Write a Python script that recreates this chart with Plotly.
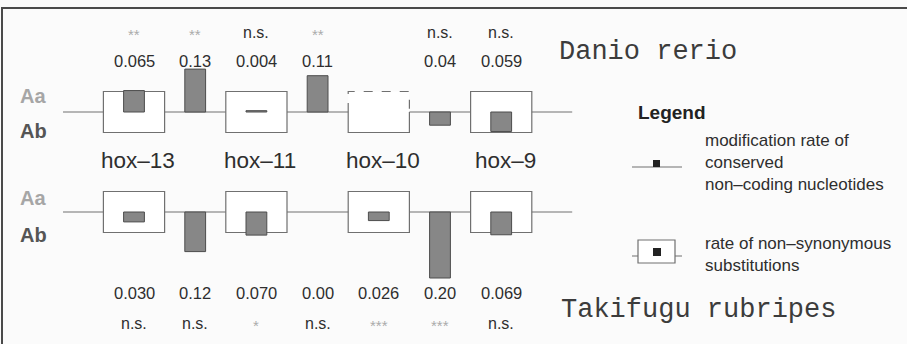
import plotly.graph_objects as go

W, H = 907, 344

# ---------------- data ----------------
slots = ["hox-13", "13/11", "hox-11", "11/10", "hox-10", "10/9", "hox-9"]
gene_slots = [0, 2, 4, 6]
gene_names = ["hox–13", "hox–11", "hox–10", "hox–9"]

danio_rate = [0.065, 0.13, 0.004, 0.11, None, 0.04, 0.059]
danio_dir = [1, 1, 1, 1, 0, -1, -1]          # +1: Aa faster, -1: Ab faster
danio_label = ["0.065", "0.13", "0.004", "0.11", "", "0.04", "0.059"]
danio_sig = ["**", "**", "n.s.", "**", "", "n.s.", "n.s."]

fugu_rate = [0.030, 0.12, 0.070, 0.00, 0.026, 0.20, 0.069]
fugu_dir = [-1, -1, -1, -1, -1, -1, -1]
fugu_label = ["0.030", "0.12", "0.070", "0.00", "0.026", "0.20", "0.069"]
fugu_sig = ["n.s.", "n.s.", "*", "n.s.", "***", "***", "n.s."]

# ---------------- geometry helpers ----------------
X0PX, SLOT_PX = 134.0, 61.2      # pixel centre of slot 0, slot spacing
SCALE = 330.0                    # pixels per unit of rate
TOP_BASE, BOT_BASE = 112.0, 212.0


def px(p):
    return p / W


def py(p):
    return 1 - p / H


xrange_ = [-X0PX / SLOT_PX, (W - X0PX) / SLOT_PX]
y1range = [-(H - TOP_BASE) / SCALE, TOP_BASE / SCALE]
y2range = [-(H - BOT_BASE) / SCALE, BOT_BASE / SCALE]

BAR_FILL = "#878787"
BAR_LINE = "#4d4d4d"
BOX_LINE = "#707070"
TXT = "#2e2e2e"
LIGHT = "#ababab"
SANS = "Liberation Sans, Arial, sans-serif"
MONO = "Liberation Mono, Courier New, monospace"

fig = go.Figure()

# bars
dx, dy = [], []
for i, (r, d) in enumerate(zip(danio_rate, danio_dir)):
    if r is not None and d != 0:
        dx.append(i)
        dy.append(d * r)
fig.add_trace(go.Bar(x=dx, y=dy, width=0.34, yaxis="y",
                     marker=dict(color=BAR_FILL, line=dict(color=BAR_LINE, width=1)),
                     showlegend=False, hoverinfo="skip"))

fx, fy = [], []
for i, (r, d) in enumerate(zip(fugu_rate, fugu_dir)):
    if r:
        fx.append(i)
        fy.append(d * r)
fig.add_trace(go.Bar(x=fx, y=fy, width=0.34, yaxis="y2",
                     marker=dict(color=BAR_FILL, line=dict(color=BAR_LINE, width=1)),
                     showlegend=False, hoverinfo="skip"))

shapes = []
annotations = []

# frame
shapes.append(dict(type="rect", xref="paper", yref="paper",
                   x0=px(2), x1=px(W + 10), y0=py(H + 10), y1=py(8),
                   line=dict(color="#4a4a4a", width=2), fillcolor="rgba(0,0,0,0)",
                   layer="below"))

BH = 20.5 / SCALE   # half height of gene boxes in rate units

for yref in ["y", "y2"]:
    # backbone line
    shapes.append(dict(type="line", xref="x", yref=yref, x0=-1.16, x1=7.16, y0=0, y1=0,
                       line=dict(color=BOX_LINE, width=1.2), layer="below"))
    for g in gene_slots:
        if yref == "y" and g == 4:
            # hox-10 absent in Aa: upper half dashed
            shapes.append(dict(type="rect", xref="x", yref=yref, x0=g - 0.5, x1=g + 0.5,
                               y0=-BH, y1=BH, fillcolor="white", line=dict(width=0),
                               layer="below"))
            shapes.append(dict(type="path", xref="x", yref=yref,
                               path=f"M {g-0.5},0 L {g-0.5},{BH} L {g+0.5},{BH} L {g+0.5},0",
                               line=dict(color=BOX_LINE, width=1.2, dash="dash"), layer="below"))
            shapes.append(dict(type="path", xref="x", yref=yref,
                               path=f"M {g-0.5},0 L {g-0.5},{-BH} L {g+0.5},{-BH} L {g+0.5},0",
                               line=dict(color=BOX_LINE, width=1.2), layer="below"))
        else:
            shapes.append(dict(type="rect", xref="x", yref=yref, x0=g - 0.5, x1=g + 0.5,
                               y0=-BH, y1=BH, fillcolor="white",
                               line=dict(color=BOX_LINE, width=1.2), layer="below"))


def ann(**kw):
    kw.setdefault("showarrow", False)
    kw.setdefault("xanchor", "center")
    kw.setdefault("yanchor", "middle")
    annotations.append(kw)


# value and significance labels
for i in range(len(slots)):
    if danio_label[i]:
        ann(x=i, y=(TOP_BASE - 61) / SCALE, xref="x", yref="y", text=danio_label[i],
            font=dict(family=SANS, size=16.5, color=TXT))
    if danio_sig[i]:
        star = "*" in danio_sig[i]
        ann(x=i, y=(TOP_BASE - (34 if star else 32)) / SCALE, xref="x", yref="y",
            text=danio_sig[i],
            font=dict(family=SANS, size=15 if star else 16, color=LIGHT if star else TXT))
    ann(x=i, y=(BOT_BASE - 293) / SCALE, xref="x", yref="y2", text=fugu_label[i],
        font=dict(family=SANS, size=16.5, color=TXT))
    star = "*" in fugu_sig[i]
    ann(x=i, y=(BOT_BASE - (325 if star else 323)) / SCALE, xref="x", yref="y2",
        text=fugu_sig[i],
        font=dict(family=SANS, size=15 if star else 16, color=LIGHT if star else TXT))

# gene names
for g, name in zip(gene_slots, gene_names):
    ann(x=g, y=(TOP_BASE - 160) / SCALE, xref="x", yref="y", text=name, xshift=4,
        font=dict(family=SANS, size=22.5, color=TXT))

# Aa / Ab labels
for yy, txt, col in [(96, "Aa", "#a6a6a6"), (131, "Ab", "#555555"),
                     (198, "Aa", "#a6a6a6"), (235, "Ab", "#555555")]:
    ann(x=px(33), y=py(yy), xref="paper", yref="paper", text=f"<b>{txt}</b>",
        font=dict(family=SANS, size=20, color=col))

# species names
ann(x=px(557), y=py(52), xref="paper", yref="paper", xanchor="left",
    text="Danio rerio", font=dict(family=MONO, size=27, color="#3c3c3c"))
ann(x=px(559), y=py(310), xref="paper", yref="paper", xanchor="left",
    text="Takifugu rubripes", font=dict(family=MONO, size=27, color="#3c3c3c"))

# legend
ann(x=px(636), y=py(113), xref="paper", yref="paper", xanchor="left",
    text="<b>Legend</b>", font=dict(family=SANS, size=19, color="#222"))
ann(x=px(703), y=py(163), xref="paper", yref="paper", xanchor="left", align="left",
    text="modification rate of<br>conserved<br>non–coding nucleotides",
    font=dict(family=SANS, size=17, color=TXT))
ann(x=px(703), y=py(254), xref="paper", yref="paper", xanchor="left", align="left",
    text="rate of non–synonymous<br>substitutions",
    font=dict(family=SANS, size=17, color=TXT))

# legend symbols
shapes.append(dict(type="line", xref="paper", yref="paper", x0=px(632), x1=px(682),
                   y0=py(167), y1=py(167), line=dict(color=BOX_LINE, width=1.2)))
shapes.append(dict(type="rect", xref="paper", yref="paper", x0=px(653), x1=px(660),
                   y0=py(167), y1=py(160), fillcolor="#222", line=dict(width=0)))
shapes.append(dict(type="line", xref="paper", yref="paper", x0=px(632), x1=px(682),
                   y0=py(256), y1=py(256), line=dict(color=BOX_LINE, width=1.2)))
shapes.append(dict(type="rect", xref="paper", yref="paper", x0=px(638), x1=px(675),
                   y0=py(263), y1=py(240), fillcolor="white",
                   line=dict(color=BOX_LINE, width=1.2)))
shapes.append(dict(type="rect", xref="paper", yref="paper", x0=px(653), x1=px(661),
                   y0=py(256), y1=py(248), fillcolor="#222", line=dict(width=0)))

fig.update_layout(
    width=W, height=H,
    margin=dict(l=0, r=0, t=0, b=0),
    paper_bgcolor="#fbfbfb", plot_bgcolor="rgba(0,0,0,0)",
    xaxis=dict(range=xrange_, visible=False, fixedrange=True),
    yaxis=dict(range=y1range, visible=False, fixedrange=True),
    yaxis2=dict(range=y2range, visible=False, overlaying="y", fixedrange=True),
    barmode="overlay",
    shapes=shapes,
    annotations=annotations,
    showlegend=False,
)

fig.write_html("out.html", config={"displayModeBar": False})
